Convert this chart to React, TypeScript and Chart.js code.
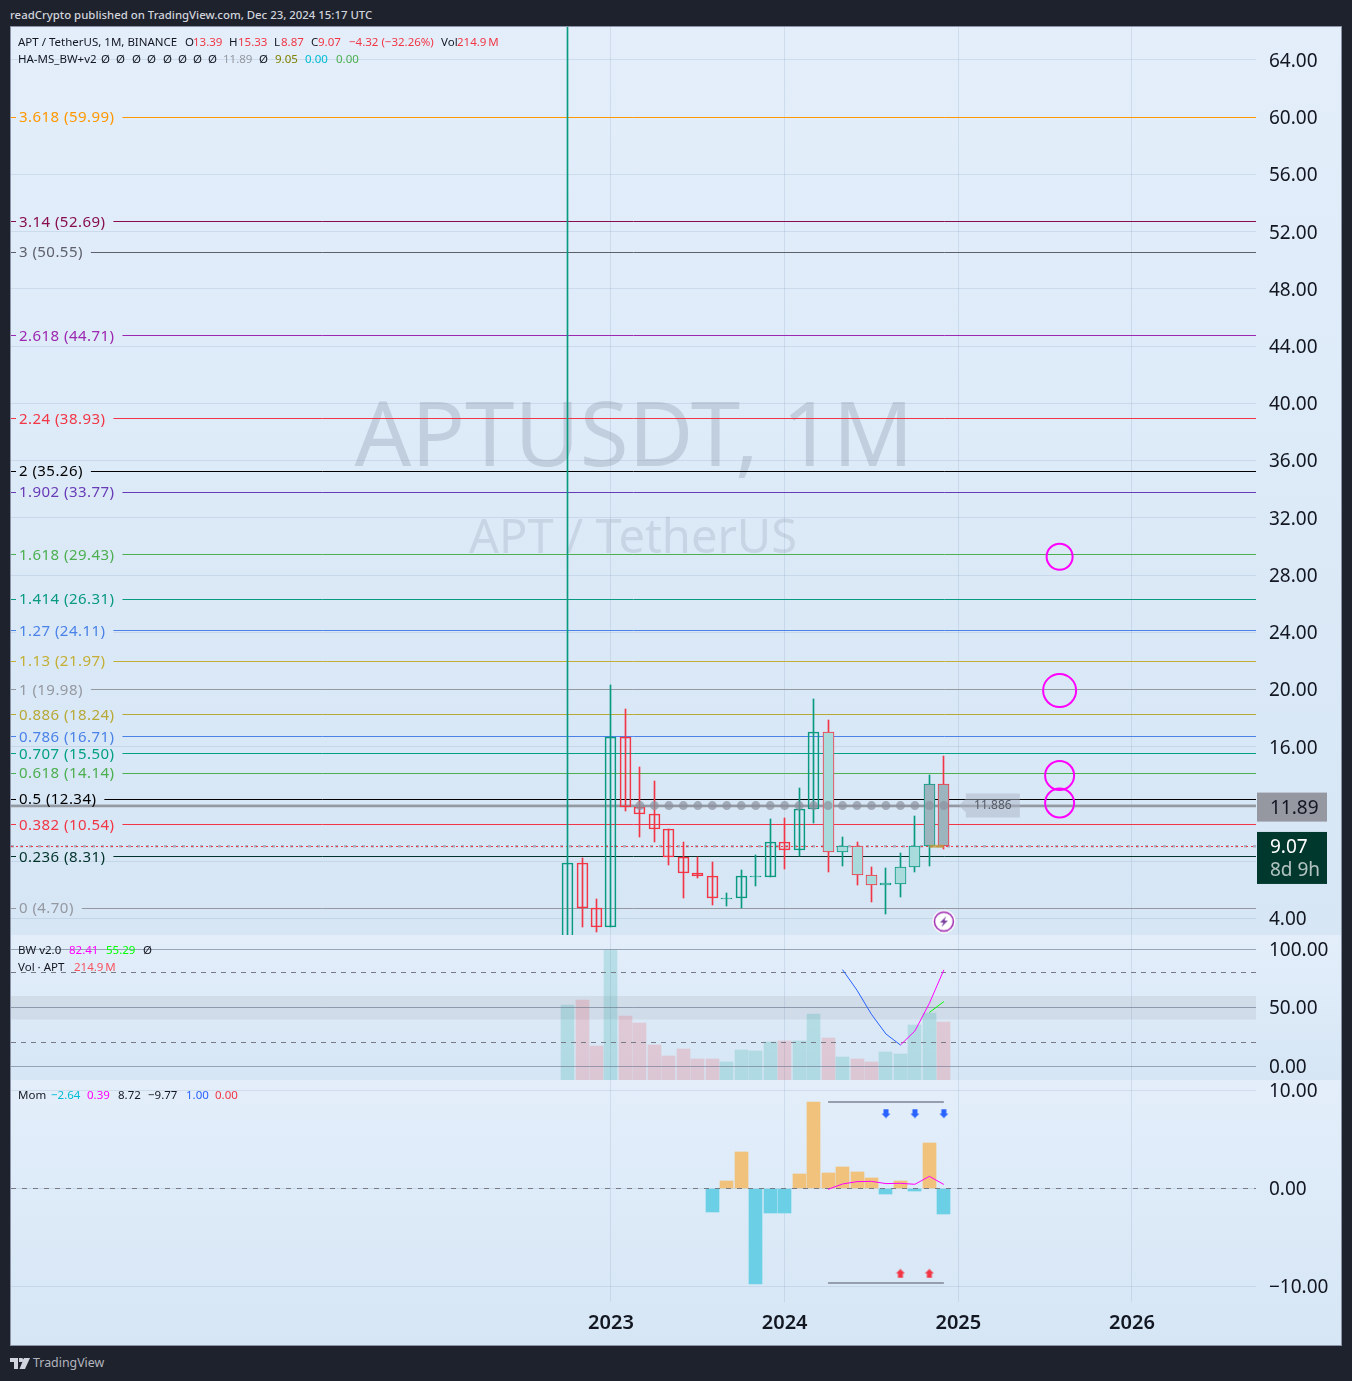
import { useEffect, useRef } from 'react';
import { Chart, registerables } from 'chart.js';

Chart.register(...registerables);

const FONT = '"Noto Sans", sans-serif';
const UP = '#089981';
const DOWN = '#f23645';

// monthly candles, Oct 2022 to Dec 2024
const months = [
  '2022-10', '2022-11', '2022-12',
  '2023-01', '2023-02', '2023-03', '2023-04', '2023-05', '2023-06', '2023-07', '2023-08', '2023-09', '2023-10', '2023-11', '2023-12',
  '2024-01', '2024-02', '2024-03', '2024-04', '2024-05', '2024-06', '2024-07', '2024-08', '2024-09', '2024-10', '2024-11', '2024-12',
];
const opens = [1.5, 7.89, 4.72, 3.42, 16.69, 11.8, 11.31, 10.26, 8.31, 7.19, 6.98, 5.44, 5.44, 6.98, 6.91, 9.36, 8.8, 11.66, 17.04, 8.66, 9.08, 7.05, 6.33, 6.42, 7.61, 9.08, 13.39];
const closes = [7.89, 4.72, 3.42, 16.69, 11.8, 11.31, 10.26, 8.31, 7.19, 6.98, 5.44, 5.44, 6.98, 6.98, 9.36, 8.8, 11.66, 17.04, 8.66, 9.08, 7.05, 6.35, 6.45, 7.61, 9.08, 13.39, 9.07];
const highs = [100, 8.24, 5.37, 20.34, 18.67, 14.6, 13.62, 10.26, 9.36, 8.31, 7.98, 5.79, 7.4, 8.45, 10.96, 11.05, 13.15, 19.37, 17.88, 9.73, 9.36, 7.61, 7.54, 8.59, 11.19, 14.06, 15.33];
const lows = [1.5, 3.39, 3.04, 3.42, 11.49, 9.68, 9.38, 7.72, 5.4, 6.81, 4.93, 4.86, 4.72, 6.26, 6.91, 7.49, 8.4, 10.7, 7.28, 7.7, 6.33, 5.14, 4.3, 5.49, 7.23, 7.7, 8.87];
const volumes = [278, 296, 126, 480, 237, 211, 130, 89, 115, 78, 78, 67, 111, 107, 141, 144, 144, 245, 156, 85, 78, 67, 104, 96, 204, 248, 215];

const fibRatios = ['3.618', '3.14', '3', '2.618', '2.24', '2', '1.902', '1.618', '1.414', '1.27', '1.13', '1', '0.886', '0.786', '0.707', '0.618', '0.5', '0.382', '0.236', '0'];
const fibPrices = [59.99, 52.69, 50.55, 44.71, 38.93, 35.26, 33.77, 29.43, 26.31, 24.11, 21.97, 19.98, 18.24, 16.71, 15.5, 14.14, 12.34, 10.54, 8.31, 4.7];
const fibColors = ['#ff9800', '#880e4f', '#5d606b', '#9c27b0', '#f23645', '#000000', '#673ab7', '#4caf50', '#089981', '#4a82e8', '#c4ae35', '#9598a1', '#b8a936', '#4a82e8', '#00a085', '#4caf50', '#000000', '#f23645', '#00332a', '#9598a1'];

const levelLine = 11.89;
const lastPrice = 9.07;
const targetPrices = [29.28, 19.93, 13.99, 12.07];

const bwBlueMonths = ['2024-05', '2024-06', '2024-07', '2024-08', '2024-09'];
const bwBlue = [82.6, 65, 44.4, 27.6, 18.2];
const bwPinkMonths = ['2024-09', '2024-10', '2024-11', '2024-12'];
const bwPink = [18.2, 30.2, 53.8, 82.41];
const bwGreenMonths = ['2024-11', '2024-12'];
const bwGreen = [46, 55.29];

const momMonths = months.slice(10);
const momValues = [-2.41, 0.75, 3.71, -9.77, -2.52, -2.52, 1.46, 8.8, 1.56, 2.18, 1.67, 1.05, -0.58, 0.75, -0.27, 4.63, -2.64];
const momLineMonths = months.slice(18);
const momLine = [-0.1, 0.44, 0.68, 0.71, 0.48, 0.51, 0.41, 1.22, 0.39];
const momHigh = 8.8;
const momLow = -9.7;
const sellMonths = ['2024-08', '2024-10', '2024-12'];
const buyMonths = ['2024-09', '2024-11'];

const yearTicks = [0, 12, 24, 36];
const X_MIN = -41.46;
const X_MAX = 44.57;

const monthPos = (m: string) => {
  const [y, mo] = m.split('-').map(Number);
  return (y - 2023) * 12 + mo - 1;
};
const minus = (s: string) => s.replace('-', '\u2212');
const flat = (y: number) => [{ x: X_MIN, y }, { x: X_MAX, y }];
const series = (ms: string[], vals: number[]) => ms.map((m, i) => ({ x: monthPos(m), y: vals[i] }));
const isUp = (i: number) => closes[i] >= opens[i];

const bodyFill = (i: number) => {
  if (i >= 25) return '#9cb4be';
  if (i >= 18) return '#a9dadc';
  return 'transparent';
};

const hline = (y: number, color: string, extra: object = {}) => ({
  type: 'line' as const,
  data: flat(y),
  borderColor: color,
  borderWidth: 1,
  pointRadius: 0,
  order: 6,
  snapY: true,
  ...extra,
});

function arrowIcon(color: string, down: boolean) {
  const c = document.createElement('canvas');
  c.width = 10;
  c.height = 10;
  const ctx = c.getContext('2d')!;
  if (down) {
    ctx.translate(0, 10);
    ctx.scale(1, -1);
  }
  ctx.fillStyle = color;
  ctx.beginPath();
  ctx.moveTo(5, 0.5);
  ctx.lineTo(9.5, 5);
  ctx.lineTo(7.5, 5);
  ctx.lineTo(7.5, 9.5);
  ctx.lineTo(2.5, 9.5);
  ctx.lineTo(2.5, 5);
  ctx.lineTo(0.5, 5);
  ctx.closePath();
  ctx.fill();
  return c;
}

function boltIcon() {
  const c = document.createElement('canvas');
  c.width = 24;
  c.height = 24;
  const ctx = c.getContext('2d')!;
  ctx.fillStyle = '#ffffff';
  ctx.beginPath();
  ctx.arc(12, 12, 11.5, 0, Math.PI * 2);
  ctx.fill();
  ctx.strokeStyle = '#9c27b0';
  ctx.lineWidth = 1.5;
  ctx.beginPath();
  ctx.arc(12, 12, 9.5, 0, Math.PI * 2);
  ctx.stroke();
  ctx.fillStyle = '#7b3fa0';
  ctx.beginPath();
  ctx.moveTo(14.5, 6.5);
  ctx.lineTo(8, 13);
  ctx.lineTo(11.5, 13);
  ctx.lineTo(9.5, 17.5);
  ctx.lineTo(16, 11);
  ctx.lineTo(12.5, 11);
  ctx.closePath();
  ctx.fill();
  return c;
}

const paneFill = (chart: Chart) => {
  const g = chart.ctx.createLinearGradient(0, 0, 0, chart.height);
  g.addColorStop(0, '#e3eefa');
  g.addColorStop(1, '#d6e6f5');
  return g;
};

const paneBackground = {
  id: 'paneBackground',
  beforeDraw(chart: Chart) {
    chart.ctx.save();
    chart.ctx.fillStyle = paneFill(chart);
    chart.ctx.fillRect(0, 0, chart.width, chart.height);
    chart.ctx.restore();
  },
};

// pixel snap so that candles and levels stay crisp, like the original
const snapMarks = {
  id: 'snapMarks',
  afterDatasetsUpdate(chart: Chart) {
    chart.data.datasets.forEach((ds: any, i) => {
      const meta = chart.getDatasetMeta(i);
      if (meta.type === 'bar') {
        meta.data.forEach((el: any) => {
          el.x = Math.round(el.x - el.width / 2) + el.width / 2;
          el.y = Math.round(el.y);
          el.base = Math.round(el.base);
          if (Math.abs(el.y - el.base) < 1) el.base = el.y + 1;
        });
      } else if (ds.snapY) {
        const lw = ds.borderWidth || 1;
        meta.data.forEach((el: any) => {
          el.y = Math.round(el.y - lw / 2) + lw / 2;
        });
      }
    });
  },
};

const watermark = {
  id: 'watermark',
  beforeDatasetsDraw(chart: Chart) {
    const { ctx } = chart;
    ctx.save();
    ctx.fillStyle = 'rgba(120,132,150,0.27)';
    ctx.textAlign = 'center';
    ctx.textBaseline = 'middle';
    ctx.font = `89px ${FONT}`;
    ctx.fillText('APTUSDT, 1M', 623, 414);
    ctx.fillStyle = 'rgba(120,132,150,0.2)';
    ctx.font = `47px ${FONT}`;
    ctx.fillText('APT / TetherUS', 622, 513);
    ctx.restore();
  },
};

const fibLabels = {
  id: 'fibLabels',
  afterDatasetsDraw(chart: Chart) {
    const { ctx } = chart;
    const y = chart.scales.y;
    ctx.save();
    ctx.font = `15px ${FONT}`;
    (ctx as any).letterSpacing = '0.45px';
    ctx.textBaseline = 'middle';
    ctx.textAlign = 'left';
    fibRatios.forEach((r, i) => {
      const py = Math.round(y.getPixelForValue(fibPrices[i]));
      const text = `${r} (${fibPrices[i].toFixed(2)})`;
      const w = ctx.measureText(text).width;
      ctx.fillStyle = paneFill(chart);
      ctx.fillRect(5, py - 1, w + 11, 3);
      ctx.fillStyle = fibColors[i];
      ctx.fillText(text, 8, py + 1);
    });
    ctx.restore();
  },
};

const priceBadges = {
  id: 'priceBadges',
  afterDraw(chart: Chart) {
    const { ctx } = chart;
    const x = chart.scales.x;
    const y = chart.scales.y;
    const py = y.getPixelForValue(levelLine);
    const tagX = x.getPixelForValue(monthPos('2024-12')) + 22;
    ctx.save();
    // small tag of the level line
    ctx.fillStyle = 'rgba(170,180,196,0.5)';
    ctx.beginPath();
    ctx.moveTo(tagX - 7, py);
    ctx.lineTo(tagX, py - 7);
    ctx.lineTo(tagX, py - 12);
    ctx.lineTo(tagX + 54, py - 12);
    ctx.lineTo(tagX + 54, py + 12);
    ctx.lineTo(tagX, py + 12);
    ctx.lineTo(tagX, py + 7);
    ctx.closePath();
    ctx.fill();
    ctx.fillStyle = '#555a66';
    ctx.font = `12px ${FONT}`;
    ctx.textAlign = 'center';
    ctx.textBaseline = 'middle';
    ctx.fillText('11.886', tagX + 27, py);

    const axisX = chart.chartArea.right + 1;
    ctx.textAlign = 'left';
    ctx.font = `19px ${FONT}`;
    ctx.fillStyle = '#9598a1';
    ctx.fillRect(axisX, py - 13, 70, 29);
    ctx.fillStyle = '#131722';
    ctx.fillText(levelLine.toFixed(2), axisX + 13, py + 3);

    const lp = y.getPixelForValue(lastPrice);
    ctx.fillStyle = '#00382e';
    ctx.fillRect(axisX, lp - 14, 70, 52);
    ctx.fillStyle = '#ffffff';
    ctx.fillText(lastPrice.toFixed(2), axisX + 13, lp + 2);
    ctx.fillStyle = 'rgba(255,255,255,0.7)';
    ctx.fillText('8d 9h', axisX + 13, lp + 25);
    ctx.restore();
  },
};

const noPadding = (scale: any) => {
  scale.paddingLeft = 0;
  scale.paddingRight = 0;
  scale.paddingTop = 0;
  scale.paddingBottom = 0;
};

const xAxis = (showLabels: boolean) => ({
  type: 'linear' as const,
  min: X_MIN,
  max: X_MAX,
  offset: false,
  afterBuildTicks(scale: any) {
    scale.ticks = yearTicks.map(value => ({ value }));
  },
  afterFit(scale: any) {
    noPadding(scale);
    scale.height = showLabels ? 43 : 0;
  },
  grid: { color: 'rgba(100,130,170,0.16)', drawTicks: false, offset: false },
  border: { display: false },
  ticks: {
    display: showLabels,
    autoSkip: false,
    maxRotation: 0,
    padding: 9,
    color: '#131722',
    font: { family: FONT, size: 20, weight: 600 },
    callback: (v: any) => String(2023 + v / 12),
  },
});

const yAxis = (min: number, max: number, stepSize: number, labelOffset: number) => ({
  type: 'linear' as const,
  position: 'right' as const,
  min,
  max,
  afterFit(scale: any) {
    noPadding(scale);
    scale.width = 85;
  },
  grid: { color: 'rgba(100,130,170,0.16)', drawTicks: false },
  border: { display: false },
  ticks: {
    stepSize,
    includeBounds: false,
    autoSkip: false,
    padding: 13,
    labelOffset,
    color: '#131722',
    font: { family: FONT, size: 19 },
    callback: (v: any) => minus(Number(v).toFixed(2)),
  },
});

const baseOptions = {
  responsive: false,
  animation: false as const,
  events: [],
  layout: { padding: 0, autoPadding: false },
  plugins: { legend: { display: false }, tooltip: { enabled: false } },
};

const legendRows: { top: number; items: [string, number, string][] }[] = [
  {
    top: 42,
    items: [
      ['APT / TetherUS, 1M, BINANCE', 18, '#131722'],
      ['O', 185, '#131722'], ['13.39', 193, DOWN],
      ['H', 229, '#131722'], ['15.33', 238, DOWN],
      ['L', 274, '#131722'], ['8.87', 281, DOWN],
      ['C', 311, '#131722'], ['9.07', 318, DOWN],
      ['\u22124.32 (\u221232.26%)', 349, DOWN],
      ['Vol', 441, '#131722'], ['214.9\u2009M', 457, DOWN],
    ],
  },
  {
    top: 59,
    items: [
      ['HA-MS_BW+v2', 18, '#131722'],
      ['\u00d8', 101, '#131722'], ['\u00d8', 116, '#131722'], ['\u00d8', 132, '#131722'], ['\u00d8', 147, '#131722'],
      ['\u00d8', 163, '#131722'], ['\u00d8', 178, '#131722'], ['\u00d8', 193, '#131722'], ['\u00d8', 208, '#131722'],
      ['11.89', 223, '#9598a1'], ['\u00d8', 259, '#131722'], ['9.05', 275, '#808000'], ['0.00', 305, '#00bcd4'], ['0.00', 336, '#4caf50'],
    ],
  },
  {
    top: 950,
    items: [['BW v2.0', 18, '#131722'], ['82.41', 69, '#ff00ff'], ['55.29', 106, '#00ff00'], ['\u00d8', 143, '#131722']],
  },
  {
    top: 967,
    items: [['Vol \u00b7 APT', 18, '#131722'], ['214.9\u2009M', 74, '#f7525f']],
  },
  {
    top: 1095,
    items: [
      ['Mom', 18, '#131722'], ['\u22122.64', 51, '#00bcd4'], ['0.39', 87, '#ff00ff'], ['8.72', 118, '#131722'],
      ['\u22129.77', 148, '#131722'], ['1.00', 186, '#2962ff'], ['0.00', 215, DOWN],
    ],
  },
];

export default function App() {
  const priceRef = useRef<HTMLCanvasElement>(null);
  const volRef = useRef<HTMLCanvasElement>(null);
  const momRef = useRef<HTMLCanvasElement>(null);

  useEffect(() => {
    if (!priceRef.current || !volRef.current || !momRef.current) return;

    const candleX = months.map(monthPos);

    const price = new Chart(priceRef.current, {
      type: 'bar',
      data: {
        datasets: [
          ...fibPrices.map((p, i) => hline(p, fibColors[i])),
          hline(levelLine, 'rgba(149,152,161,0.25)', { borderWidth: 4, order: 5 }),
          hline(levelLine, '#9598a1', { borderWidth: 2, order: 5 }),
          // nudged a hair so the snap lands on the same pixel row as the original
          hline(lastPrice - 0.02, 'rgba(148,155,170,0.7)', { borderWidth: 2.5, borderDash: [3, 6], order: 5 }),
          hline(lastPrice - 0.02, '#f23645', { borderWidth: 1, borderDash: [2, 3], order: 4 }),
          {
            type: 'bar',
            data: candleX.map((x, i) => ({ x, y: [lows[i], highs[i]] })),
            backgroundColor: candleX.map((_, i) => (isUp(i) ? UP : DOWN)),
            barThickness: 1,
            grouped: false,
            order: 3,
          },
          {
            type: 'bar',
            data: candleX.map((x, i) => ({ x, y: [opens[i], closes[i]] })),
            backgroundColor: candleX.map((_, i) => bodyFill(i)),
            borderColor: candleX.map((_, i) => (isUp(i) ? UP : DOWN)),
            borderWidth: 1,
            borderSkipped: false,
            barThickness: 11,
            grouped: false,
            order: 2,
          },
          {
            type: 'line',
            data: series(months.slice(5), months.slice(5).map(() => levelLine)),
            showLine: false,
            pointRadius: 4.5,
            pointBorderWidth: 0,
            pointBackgroundColor: 'rgba(140,146,158,0.7)',
            order: 1,
          },
          {
            type: 'line',
            data: series(['2024-11', '2024-12'], [9.05, 9.05]),
            borderColor: 'rgba(190,160,60,0.75)',
            borderWidth: 3,
            pointRadius: 0,
            order: 1,
          },
          {
            type: 'scatter',
            data: targetPrices.map(y => ({ x: 31, y })),
            pointRadius: [13, 16.5, 14.5, 14.5],
            pointBorderColor: '#ff00ff',
            pointBorderWidth: 2,
            pointBackgroundColor: 'transparent',
            order: 0,
          },
          {
            type: 'scatter',
            data: [{ x: monthPos('2024-12'), y: 3.79 }],
            pointStyle: boltIcon() as any,
            order: 0,
          },
        ] as any,
      },
      options: {
        ...baseOptions,
        scales: { x: xAxis(false), y: yAxis(2.847, 66.3, 4, 1.5) },
      } as any,
      plugins: [paneBackground, snapMarks, watermark, fibLabels, priceBadges],
    });

    const vol = new Chart(volRef.current, {
      type: 'bar',
      data: {
        datasets: [
          hline(60, 'rgba(0,0,0,0)', { fill: { value: 40 }, backgroundColor: 'rgba(120,123,134,0.12)', borderWidth: 0, order: 8, snapY: false }),
          hline(100, 'rgba(110,120,140,0.55)'),
          hline(50, 'rgba(110,120,140,0.6)'),
          hline(0, 'rgba(110,120,140,0.55)'),
          hline(80, '#787b86', { borderDash: [5, 5] }),
          hline(20, '#787b86', { borderDash: [5, 5] }),
          {
            type: 'bar',
            yAxisID: 'vol',
            data: months.map((m, i) => ({ x: monthPos(m), y: volumes[i] })),
            backgroundColor: months.map((_, i) => (isUp(i) ? 'rgba(0,160,150,0.18)' : 'rgba(242,54,69,0.18)')),
            barThickness: 13,
            grouped: false,
            order: 7,
          },
          { type: 'line', data: series(bwBlueMonths, bwBlue), borderColor: '#2962ff', borderWidth: 1, pointRadius: 0, order: 1 },
          { type: 'line', data: series(bwPinkMonths, bwPink), borderColor: '#ff00ff', borderWidth: 1, pointRadius: 0, order: 1 },
          { type: 'line', data: series(bwGreenMonths, bwGreen), borderColor: '#00ff00', borderWidth: 1, pointRadius: 0, order: 1 },
        ] as any,
      },
      options: {
        ...baseOptions,
        scales: {
          x: xAxis(false),
          y: yAxis(-11.7, 112.2, 50, 1),
          vol: { type: 'linear', display: false, min: 0, max: 537 },
        },
      } as any,
      plugins: [paneBackground, snapMarks],
    });

    const mom = new Chart(momRef.current, {
      type: 'bar',
      data: {
        datasets: [
          hline(0, '#787b86', { borderDash: [5, 6], order: 1 }),
          {
            type: 'bar',
            data: momMonths.map((m, i) => ({ x: monthPos(m), y: momValues[i] })),
            backgroundColor: momValues.map(v => (v >= 0 ? '#f0c27b' : '#6bd0e6')),
            barThickness: 13,
            grouped: false,
            order: 3,
          },
          { type: 'line', data: series(momLineMonths, momLine), borderColor: '#ff00ff', borderWidth: 1, pointRadius: 0, order: 0 },
          {
            type: 'line',
            data: series([months[18], months[26]], [momHigh, momHigh]),
            borderColor: 'rgba(140,150,165,0.9)',
            borderWidth: 2,
            pointRadius: 0,
            snapY: true,
            order: 2,
          },
          {
            type: 'line',
            data: series([months[18], months[26]], [momLow, momLow]),
            borderColor: 'rgba(140,150,165,0.9)',
            borderWidth: 2,
            pointRadius: 0,
            snapY: true,
            order: 2,
          },
          {
            type: 'scatter',
            data: series(sellMonths, sellMonths.map(() => 7.63)),
            pointStyle: arrowIcon('#2962ff', true) as any,
            order: 0,
          },
          {
            type: 'scatter',
            data: series(buyMonths, buyMonths.map(() => -8.69)),
            pointStyle: arrowIcon(DOWN, false) as any,
            order: 0,
          },
        ] as any,
      },
      options: {
        ...baseOptions,
        scales: { x: xAxis(true), y: yAxis(-11.6, 11.05, 10, 1) },
      } as any,
      plugins: [paneBackground, snapMarks],
    });

    return () => {
      price.destroy();
      vol.destroy();
      mom.destroy();
    };
  }, []);

  const pane: React.CSSProperties = { position: 'absolute', left: 11, display: 'block' };

  return (
    <div style={{ position: 'absolute', left: 0, top: 0, width: 1352, height: 1381, background: '#1e222d', overflow: 'hidden', fontFamily: FONT }}>
      <div style={{ position: 'absolute', left: 10, top: 15, lineHeight: 0, fontSize: 11.4, fontWeight: 500, color: '#d1d4dc', whiteSpace: 'nowrap' }}>
        readCrypto published on TradingView.com, Dec 23, 2024 15:17 UTC
      </div>
      <div style={{ position: 'absolute', left: 10, top: 26, width: 1330, height: 1318, border: '1px solid #8a94a6' }} />
      <canvas ref={priceRef} width={1330} height={908} style={{ ...pane, top: 27 }} />
      <canvas ref={volRef} width={1330} height={145} style={{ ...pane, top: 935 }} />
      <canvas ref={momRef} width={1330} height={265} style={{ ...pane, top: 1080 }} />
      {legendRows.map(row =>
        row.items.map(([text, left, color], i) => (
          <span key={`${row.top}-${i}`} style={{ position: 'absolute', left, top: row.top, lineHeight: 0, fontSize: 11.5, color, whiteSpace: 'nowrap' }}>
            {text}
          </span>
        )),
      )}
      <svg style={{ position: 'absolute', left: 10, top: 1358 }} width="20" height="11" viewBox="0 0 20 11">
        <path d="M0 0h8v11H4V4H0z M9 0h2.5a2 2 0 0 1 0 4H9z M14 0h6l-5 11H9.5z" fill="#d1d4dc" />
      </svg>
      <div style={{ position: 'absolute', left: 33, top: 1363, lineHeight: 0, fontSize: 12.4, color: '#b2b5be', whiteSpace: 'nowrap' }}>TradingView</div>
    </div>
  );
}
